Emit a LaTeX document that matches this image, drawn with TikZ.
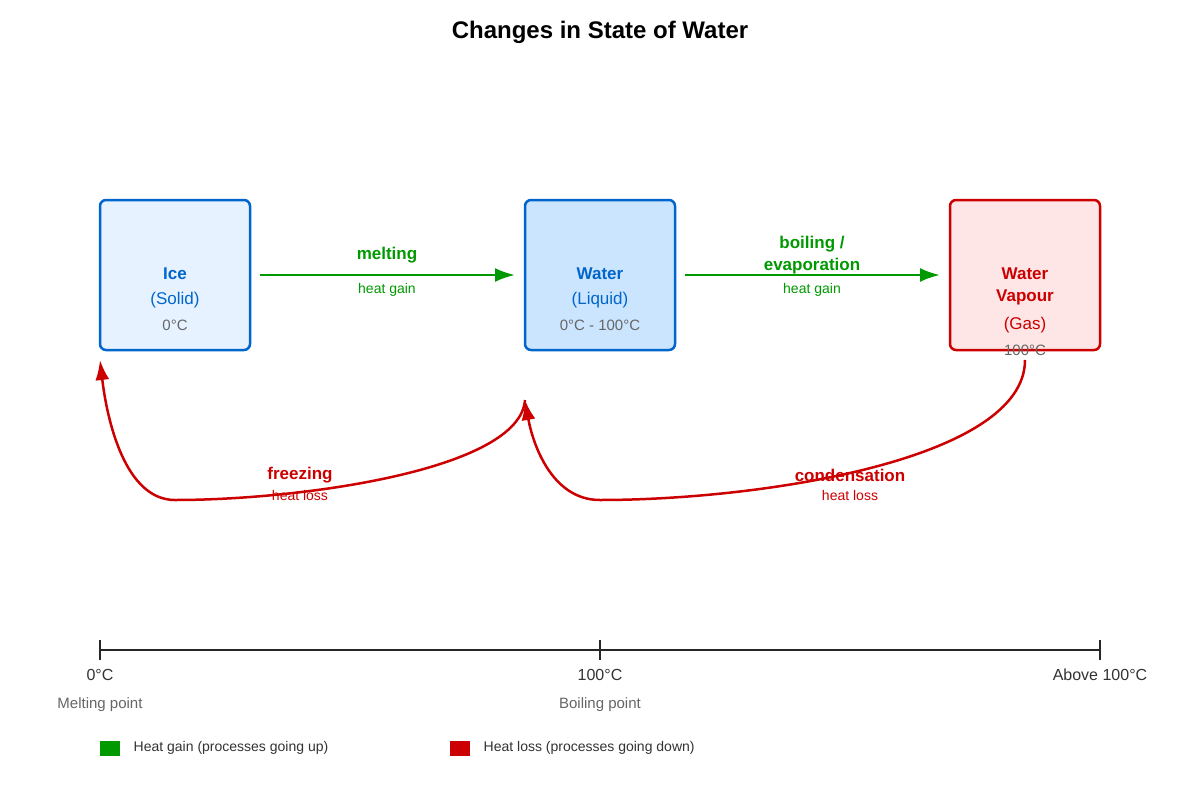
\documentclass[tikz,border=0pt]{standalone}
\usepackage{fontspec}
\setmainfont{Liberation Sans}
\usetikzlibrary{positioning,arrows.meta}
\definecolor{iceblue}{HTML}{0066CC}
\definecolor{icefill}{HTML}{E6F2FF}
\definecolor{waterfill}{HTML}{CCE5FF}
\definecolor{hotred}{HTML}{CC0000}
\definecolor{hotfill}{HTML}{FFE6E6}
\definecolor{gaingreen}{HTML}{009900}
\definecolor{greytext}{HTML}{666666}
\tikzset{
  state/.style={rectangle, rounded corners=6pt, line width=2.5pt, minimum width=150pt, minimum height=150pt, align=center},
  gain/.style={draw=gaingreen, line width=2.5pt, -{Latex[length=20pt,width=14pt]}},
  loss/.style={draw=hotred, line width=2.5pt, -{Latex[length=20pt,width=14pt]}},
  big/.style={font=\fontsize{17}{22}\selectfont\bfseries},
  small/.style={font=\fontsize{14}{18}\selectfont},
  tiny/.style={font=\fontsize{15}{18}\selectfont, text=greytext}
}
\begin{document}
\begin{tikzpicture}[x=1pt, y=-1pt]
  \useasboundingbox[fill=white] (0,0) rectangle (1200,800);
  \node[font=\fontsize{24}{28}\selectfont\bfseries] (title) at (600,32) {Changes in State of Water};

  % states
  \node[state, draw=iceblue, fill=icefill] (ice) at (175,275) {};
  \node[state, draw=iceblue, fill=waterfill] (water) at (600,275) {};
  \node[state, draw=hotred, fill=hotfill] (vapour) at (1025,275) {};
  \node[big, text=iceblue] (icet) at (175,274) {Ice};
  \node[font=\fontsize{17}{22}\selectfont, text=iceblue] (ices) at (175,300) {(Solid)};
  \node[tiny] (icet2) at (175,325) {0°C};
  \node[big, text=iceblue] (watert) at (600,274) {Water};
  \node[font=\fontsize{17}{22}\selectfont, text=iceblue] (waters) at (600,300) {(Liquid)};
  \node[tiny] (watert2) at (600,325) {0°C - 100°C};
  \node[big, text=hotred, align=center] (vapourt) at (1025,286) {Water\\Vapour};
  \node[font=\fontsize{17}{22}\selectfont, text=hotred] (vapours) at (1025,325) {(Gas)};
  \node[tiny] (vapourt2) at (1025,350) {100°C};

  % heating
  \coordinate (m1) at (260,275);
  \coordinate (m2) at (515,275);
  \coordinate (b1) at (685,275);
  \coordinate (b2) at (940,275);
  \draw[gain] (m1) -- (m2);
  \draw[gain] (b1) -- (b2);
  \node[big, text=gaingreen] (melt) at (387,255) {melting};
  \node[small, text=gaingreen] (meltg) at (387,290) {heat gain};
  \node[big, text=gaingreen, align=center] (boil) at (812,255) {boiling /\\evaporation};
  \node[small, text=gaingreen] (boilg) at (812,290) {heat gain};

  % cooling
  \coordinate (f1) at (525,400);
  \coordinate (f2) at (100,360);
  \coordinate (c1) at (1025,360);
  \coordinate (c2) at (525,400);
  \draw[loss] (f1) .. controls (520,470) and (300,500) .. (175,500)
    .. controls (125,500) and (107,420) .. (f2);
  \draw[loss] (c1) .. controls (1025,460) and (760,500) .. (600,500)
    .. controls (550,500) and (532,440) .. (c2);
  \node[big, text=hotred] (freeze) at (300,475) {freezing};
  \node[small, text=hotred] (freezel) at (300,495) {heat loss};
  \node[big, text=hotred] (cond) at (850,475) {condensation};
  \node[small, text=hotred] (condl) at (850,495) {heat loss};

  % scale
  \coordinate (s0) at (100,650);
  \coordinate (s1) at (600,650);
  \coordinate (s2) at (1100,650);
  \draw[line width=1.5pt, draw=black!85] (s0) -- (s2);
  \foreach \p in {s0,s1,s2}
    \draw[line width=1.5pt, draw=black!85] ([yshift=-10pt]\p) -- ([yshift=10pt]\p);
  \node[font=\fontsize{16}{20}\selectfont, text=black!80] (t0) at (100,675) {0°C};
  \node[font=\fontsize{16}{20}\selectfont, text=black!80] (t1) at (600,675) {100°C};
  \node[font=\fontsize{16}{20}\selectfont, text=black!80] (t2) at (1100,675) {Above 100°C};
  \node[tiny] (p0) at (100,705) {Melting point};
  \node[tiny] (p1) at (600,705) {Boiling point};

  % legend
  \node[fill=gaingreen, minimum width=20pt, minimum height=15pt, inner sep=0pt] (lg) at (110,748) {};
  \node[font=\fontsize{14}{18}\selectfont, text=black!80, right=10pt of lg] (lgt) {Heat gain (processes going up)};
  \node[fill=hotred, minimum width=20pt, minimum height=15pt, inner sep=0pt] (ll) at (460,748) {};
  \node[font=\fontsize{14}{18}\selectfont, text=black!80, right=10pt of ll] (llt) {Heat loss (processes going down)};
\end{tikzpicture}
\end{document}
